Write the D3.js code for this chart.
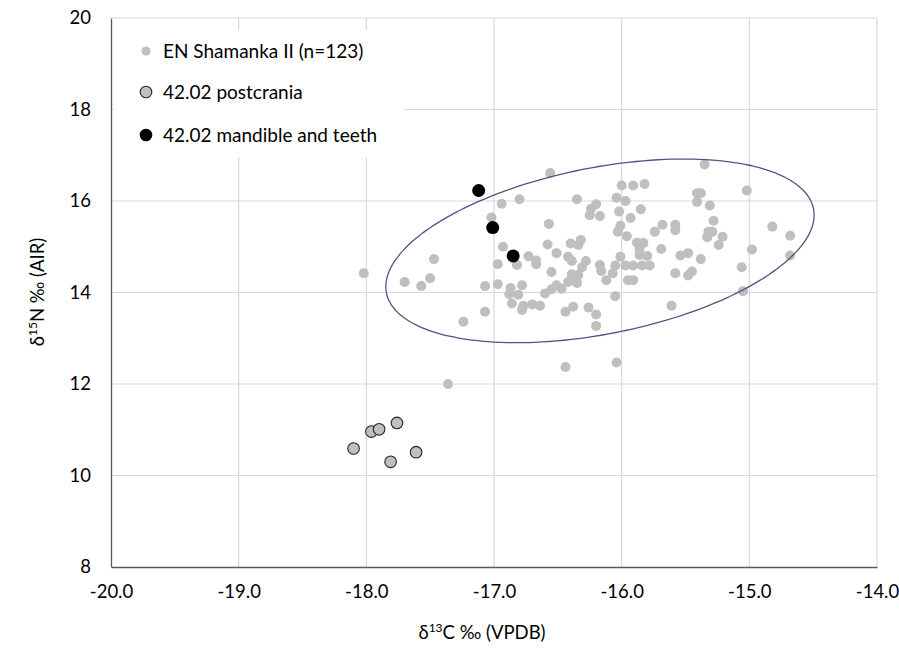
<!DOCTYPE html>
<html>
<head>
<meta charset="utf-8">
<script src="https://cdn.jsdelivr.net/npm/d3@7"></script>
<style>
  html, body { margin: 0; padding: 0; background: #fff; }
  svg { display: block; font-family: Lato, "Open Sans", "Liberation Sans", sans-serif; }
</style>
</head>
<body>
<svg id="chart" width="899" height="652"></svg>
<script>
// ---- Data ----
const xTicks = [-20, -19, -18, -17, -16, -15, -14];
const yTicks = [8, 10, 12, 14, 16, 18, 20];

// EN Shamanka II: [d13C, d15N]
const shamankaC = [
  -18.02,-17.70,-17.57,-17.50,-17.47,-17.24,-17.36,-17.07,-17.07,-17.02,
  -16.97,-16.97,-16.94,-16.93,-16.87,-16.88,-16.81,-16.78,-16.86,-16.77,
  -16.78,-16.70,-16.64,-16.82,-16.80,-16.73,-16.67,-16.67,-16.57,-16.58,
  -16.56,-16.51,-16.55,-16.60,-16.55,-16.51,-16.47,-16.42,-16.40,-16.39,
  -16.34,-16.35,-16.44,-16.38,-16.40,-16.34,-16.32,-16.42,-16.39,-16.35,
  -16.44,-16.20,-16.24,-16.25,-16.17,-16.28,-16.31,-16.17,-16.16,-16.12,
  -16.26,-16.20,-16.20,-16.05,-16.05,-16.04,-16.04,-16.02,-16.00,-15.91,
  -15.82,-15.97,-15.85,-15.93,-16.01,-16.03,-15.96,-15.88,-15.83,-15.86,
  -15.86,-15.80,-16.01,-15.97,-15.91,-15.84,-15.78,-15.95,-15.91,-15.74,
  -15.68,-15.69,-15.58,-15.58,-15.54,-15.58,-15.61,-15.48,-15.38,-15.45,
  -15.48,-15.35,-15.41,-15.38,-15.41,-15.31,-15.28,-15.32,-15.29,-15.33,
  -15.21,-15.24,-15.02,-14.82,-14.68,-14.98,-14.68,-15.06,-15.05,-16.07
];
const shamankaN = [
  14.42,14.23,14.14,14.31,14.73,13.36,12.00,14.14,13.58,15.64,
  14.62,14.18,15.94,15.00,14.10,13.96,13.95,14.16,13.76,13.71,
  13.62,13.74,13.71,14.60,16.04,14.79,14.70,14.62,15.50,15.05,
  16.61,14.86,14.45,13.98,14.07,14.16,14.08,14.23,14.27,14.40,
  14.38,14.21,13.58,13.69,15.07,15.04,15.15,14.78,14.69,16.04,
  12.37,15.93,15.83,15.69,15.67,14.69,14.55,14.60,14.47,14.27,
  13.67,13.52,13.27,14.59,13.92,12.47,16.07,15.77,16.34,16.34,
  16.37,16.00,15.82,15.63,15.46,15.33,15.23,15.09,15.08,14.94,
  14.82,14.80,14.78,14.59,14.59,14.59,14.59,14.27,14.27,15.33,
  15.48,14.95,15.48,15.36,14.81,14.42,13.71,14.86,14.73,14.46,
  14.37,16.80,16.17,16.17,15.98,15.90,15.57,15.33,15.33,15.21,
  15.22,15.04,16.23,15.44,15.24,14.94,14.81,14.55,14.03,14.42
];

// 42.02 postcrania
const postC = [-18.10, -17.96, -17.90, -17.76, -17.81, -17.61];
const postN = [10.59, 10.96, 11.01, 11.15, 10.30, 10.51];

// 42.02 mandible and teeth
const mandC = [-17.12, -17.01, -16.85];
const mandN = [16.23, 15.42, 14.80];

// Ellipse: centre and semi-axis vectors (data units)
const ellipseCentre = [-16.17, 14.91];
const ellipseU = [1.6726, 0.9190];
const ellipseV = [-0.1259, 1.7844];

const legendLabels = ["EN Shamanka II (n=123)", "42.02 postcrania", "42.02 mandible and teeth"];

// ---- Layout ----
const svg = d3.select("#chart");
const L = 111, R = 877, T = 18, B = 567;
const x = d3.scaleLinear().domain([-20, -14]).range([L, R]);
const y = d3.scaleLinear().domain([8, 20]).range([B, T]);
const FONT = 18.5;

// gridlines
const grid = svg.append("g");
grid.selectAll(".gx").data(xTicks.filter(d => d !== -20)).enter().append("line")
  .attr("x1", d => x(d)).attr("x2", d => x(d)).attr("y1", T).attr("y2", B)
  .attr("stroke", "#d9d9d9").attr("stroke-width", 1.2);
grid.selectAll(".gy").data(yTicks.filter(d => d !== 8)).enter().append("line")
  .attr("x1", L).attr("x2", R).attr("y1", d => y(d)).attr("y2", d => y(d))
  .attr("stroke", "#d9d9d9").attr("stroke-width", 1.2);

// axes
const xAxis = d3.axisBottom(x).tickValues(xTicks).tickSize(0).tickPadding(18)
  .tickFormat(d => d.toFixed(1));
const yAxis = d3.axisLeft(y).tickValues(yTicks).tickSize(0).tickPadding(20)
  .tickFormat(d => String(d));
const gx = svg.append("g").attr("transform", `translate(0,${B})`).call(xAxis);
const gy = svg.append("g").attr("transform", `translate(${L},0)`).call(yAxis);
[gx, gy].forEach(g => {
  g.select(".domain").attr("stroke", "#595959").attr("stroke-width", 1.3);
  g.selectAll("text").attr("font-size", FONT).attr("fill", "#000")
    .attr("font-family", "Lato, 'Open Sans', sans-serif");
});

// legend background
svg.append("rect").attr("x", 114).attr("y", 30).attr("width", 290).attr("height", 127).attr("fill", "#fff");

// Shamanka points
const sham = shamankaC.map((c, i) => [c, shamankaN[i]]);
svg.append("g").selectAll("circle").data(sham).enter().append("circle")
  .attr("cx", d => x(d[0])).attr("cy", d => y(d[1])).attr("r", 5)
  .attr("fill", "#bfbfbf");

// ellipse
const ts = d3.range(0, 361, 2).map(a => a * Math.PI / 180);
const ellPts = ts.map(t => [
  ellipseCentre[0] + ellipseU[0] * Math.cos(t) + ellipseV[0] * Math.sin(t),
  ellipseCentre[1] + ellipseU[1] * Math.cos(t) + ellipseV[1] * Math.sin(t)
]);
svg.append("path").datum(ellPts)
  .attr("d", d3.line().x(d => x(d[0])).y(d => y(d[1])).curve(d3.curveCatmullRomClosed))
  .attr("fill", "none").attr("stroke", "#4f5683").attr("stroke-width", 1.3);

// postcrania
const post = postC.map((c, i) => [c, postN[i]]);
svg.append("g").selectAll("circle").data(post).enter().append("circle")
  .attr("cx", d => x(d[0])).attr("cy", d => y(d[1])).attr("r", 5.8)
  .attr("fill", "#bfbfbf").attr("stroke", "#262626").attr("stroke-width", 1.1);

// mandible & teeth
const mand = mandC.map((c, i) => [c, mandN[i]]);
svg.append("g").selectAll("circle").data(mand).enter().append("circle")
  .attr("cx", d => x(d[0])).attr("cy", d => y(d[1])).attr("r", 6.5)
  .attr("fill", "#000");

// legend
const lg = svg.append("g");
const rowsY = [51, 92, 135];
lg.append("circle").attr("cx", 146).attr("cy", rowsY[0]).attr("r", 4.5).attr("fill", "#bfbfbf");
lg.append("circle").attr("cx", 146).attr("cy", rowsY[1]).attr("r", 5.8).attr("fill", "#bfbfbf")
  .attr("stroke", "#262626").attr("stroke-width", 1.1);
lg.append("circle").attr("cx", 146).attr("cy", rowsY[2]).attr("r", 6.3).attr("fill", "#000");
lg.selectAll("text").data(legendLabels).enter().append("text")
  .attr("x", 163).attr("y", (d, i) => rowsY[i]).attr("dy", "0.35em")
  .attr("font-size", 19).attr("fill", "#000").text(d => d);

// axis titles
const xt = svg.append("text").attr("x", 482).attr("y", 639).attr("text-anchor", "middle")
  .attr("font-size", FONT).attr("fill", "#000");
xt.append("tspan").text("δ");
xt.append("tspan").attr("font-size", 12).attr("dy", -7).text("13");
xt.append("tspan").attr("dy", 7).text("C ‰ (VPDB)");

const yt = svg.append("text").attr("transform", "translate(44,292) rotate(-90)")
  .attr("text-anchor", "middle").attr("font-size", FONT).attr("fill", "#000");
yt.append("tspan").text("δ");
yt.append("tspan").attr("font-size", 12).attr("dy", -7).text("15");
yt.append("tspan").attr("dy", 7).text("N ‰ (AIR)");
</script>
</body>
</html>
